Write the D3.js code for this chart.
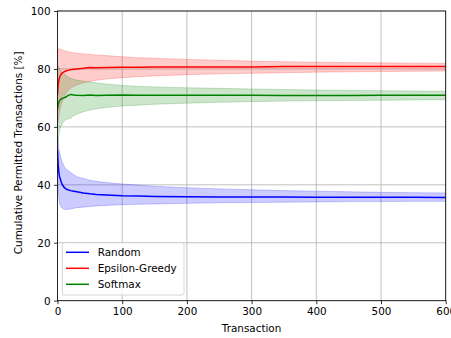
<!DOCTYPE html>
<html>
<head>
<meta charset="utf-8">
<script src="https://cdn.jsdelivr.net/npm/d3@7"></script>
<style>
  body { margin: 0; background: #fff; }
  svg { font-family: "DejaVu Sans", sans-serif; }
</style>
</head>
<body>
<div id="chart"></div>
<script>
const transactions = [0, 1, 2, 3, 5, 7, 10, 13, 16, 20, 25, 30, 40, 50, 60, 75, 100, 125, 150, 200, 250, 300, 350, 400, 450, 500, 550, 600];

const randomMean  = [52, 47, 44.5, 43, 41.5, 40.2, 39.2, 38.6, 38.3, 38.0, 37.8, 37.6, 37.2, 36.9, 36.7, 36.5, 36.2, 36.1, 36.0, 35.9, 35.8, 35.8, 35.8, 35.7, 35.7, 35.7, 35.7, 35.6];
const randomUpper = [57, 55, 53, 51.5, 49.5, 48, 46.5, 45.5, 45, 44.3, 43.5, 42.8, 42.2, 41.6, 41.2, 40.8, 40.3, 39.9, 39.5, 39.0, 38.6, 38.3, 38.0, 37.8, 37.6, 37.4, 37.3, 37.2];
const randomLower = [47, 39, 36, 34, 32.5, 32, 31.6, 31.5, 31.5, 31.7, 31.9, 32.1, 32.3, 32.5, 32.7, 32.9, 33.1, 33.3, 33.4, 33.6, 33.8, 33.9, 34.0, 34.1, 34.2, 34.2, 34.3, 34.3];

const greedyMean  = [71, 74.5, 76, 77, 78, 78.6, 79.0, 79.3, 79.5, 79.7, 79.9, 80.0, 80.2, 80.5, 80.4, 80.5, 80.6, 80.6, 80.7, 80.7, 80.7, 80.7, 80.8, 80.8, 80.8, 80.8, 80.8, 80.8];
const greedyUpper = [85, 86.5, 87, 87, 86.8, 86.6, 86.3, 86.1, 86.0, 85.8, 85.6, 85.4, 85.2, 85.0, 84.8, 84.6, 84.2, 83.9, 83.7, 83.3, 83.0, 82.7, 82.5, 82.3, 82.2, 82.1, 82.0, 81.9];
const greedyLower = [60, 62, 63.5, 65, 67, 68.5, 70.2, 71.5, 72.5, 73.3, 74, 74.5, 75.2, 75.7, 76.1, 76.5, 77.0, 77.3, 77.6, 78.0, 78.3, 78.5, 78.7, 78.9, 79.0, 79.1, 79.2, 79.3];

const softmaxMean  = [66, 67.5, 68.5, 69, 69.5, 69.8, 70.0, 70.3, 70.8, 71.2, 71.0, 70.9, 70.8, 71.0, 70.8, 70.9, 71.0, 70.9, 70.9, 70.9, 70.9, 70.9, 70.8, 70.8, 70.8, 70.9, 70.9, 70.9];
const softmaxUpper = [81, 81, 80.5, 80, 79.5, 79, 78.3, 77.8, 77.3, 76.8, 76.4, 76.1, 75.8, 75.5, 75.2, 74.8, 74.3, 74.0, 73.8, 73.5, 73.3, 73.1, 72.9, 72.7, 72.6, 72.5, 72.4, 72.3];
const softmaxLower = [52, 55, 57, 58.5, 60, 61, 62, 62.5, 62.8, 63, 63.8, 64.4, 65.2, 65.8, 66.2, 66.7, 67.2, 67.5, 67.8, 68.2, 68.5, 68.7, 68.9, 69.0, 69.1, 69.2, 69.3, 69.4];

const seriesNames = ['Random', 'Epsilon-Greedy', 'Softmax'];
const seriesColors = ['#0000ff', '#ff0000', '#008000'];
const xTicks = [0, 100, 200, 300, 400, 500, 600];
const yTicks = [0, 20, 40, 60, 80, 100];

const series = [
  { mean: randomMean, upper: randomUpper, lower: randomLower },
  { mean: greedyMean, upper: greedyUpper, lower: greedyLower },
  { mean: softmaxMean, upper: softmaxUpper, lower: softmaxLower }
];

const W = 451, H = 338;
const margin = { top: 11, right: 5.3, bottom: 37.3, left: 57.5 };
const width = W - margin.left - margin.right;
const height = H - margin.top - margin.bottom;
const fontSize = '10.4px';

const svg = d3.select('#chart').append('svg')
  .attr('width', W).attr('height', H);

const g = svg.append('g')
  .attr('transform', `translate(${margin.left},${margin.top})`);

const x = d3.scaleLinear().domain([0, 600]).range([0, width]);
const y = d3.scaleLinear().domain([0, 100]).range([height, 0]);

g.append('clipPath').attr('id', 'plotclip')
  .append('rect').attr('width', width).attr('height', height);

// grid
g.append('g').selectAll('line').data(xTicks).enter().append('line')
  .attr('x1', d => x(d)).attr('x2', d => x(d))
  .attr('y1', 0).attr('y2', height)
  .attr('stroke', '#b0b0b0').attr('stroke-width', 0.8);
g.append('g').selectAll('line').data(yTicks).enter().append('line')
  .attr('y1', d => y(d)).attr('y2', d => y(d))
  .attr('x1', 0).attr('x2', width)
  .attr('stroke', '#b0b0b0').attr('stroke-width', 0.8);

const plot = g.append('g').attr('clip-path', 'url(#plotclip)');

const area = d3.area()
  .x((d, i) => x(transactions[i]))
  .y0(d => y(d[0]))
  .y1(d => y(d[1]));

const line = d3.line()
  .x((d, i) => x(transactions[i]))
  .y(d => y(d));

series.forEach((s, k) => {
  const band = s.lower.map((lo, i) => [lo, s.upper[i]]);
  plot.append('path')
    .datum(band)
    .attr('d', area)
    .attr('fill', seriesColors[k])
    .attr('fill-opacity', 0.2)
    .attr('stroke', seriesColors[k])
    .attr('stroke-opacity', 0.2)
    .attr('stroke-width', 1);
});

series.forEach((s, k) => {
  plot.append('path')
    .datum(s.mean)
    .attr('d', line)
    .attr('fill', 'none')
    .attr('stroke', seriesColors[k])
    .attr('stroke-width', 1.5);
});

// axes
const xAxis = g.append('g')
  .attr('transform', `translate(0,${height})`)
  .call(d3.axisBottom(x).tickValues(xTicks).tickSize(3.5).tickPadding(3.5));
const yAxis = g.append('g')
  .call(d3.axisLeft(y).tickValues(yTicks).tickSize(3.5).tickPadding(3.5));

[xAxis, yAxis].forEach(a => {
  a.selectAll('.tick text')
    .attr('font-size', fontSize)
    .attr('font-family', 'DejaVu Sans')
    .attr('fill', '#000');
  a.selectAll('.tick line').attr('stroke', '#000').attr('stroke-width', 0.8);
  a.select('.domain').remove();
});

// spines
g.append('rect')
  .attr('width', width).attr('height', height)
  .attr('fill', 'none').attr('stroke', '#000').attr('stroke-width', 0.8);

svg.append('text')
  .attr('x', margin.left + width / 2).attr('y', 332)
  .attr('text-anchor', 'middle')
  .attr('font-size', fontSize)
  .text('Transaction');

svg.append('text')
  .attr('transform', `translate(22,${margin.top + height / 2 - 3}) rotate(-90)`)
  .attr('text-anchor', 'middle')
  .attr('font-size', fontSize)
  .text('Cumulative Permitted Transactions [%]');

// legend
const legend = svg.append('g').attr('transform', 'translate(62.3,242.7)');
legend.append('rect')
  .attr('width', 121.7).attr('height', 52.3)
  .attr('rx', 2).attr('ry', 2)
  .attr('fill', '#fff').attr('fill-opacity', 0.8)
  .attr('stroke', '#cccccc').attr('stroke-width', 0.8);

seriesNames.forEach((name, i) => {
  const row = legend.append('g').attr('transform', `translate(0,${9.6 + i * 16})`);
  row.append('line')
    .attr('x1', 3.7).attr('x2', 26.7)
    .attr('stroke', seriesColors[i]).attr('stroke-width', 1.5);
  row.append('text')
    .attr('x', 35.4).attr('y', 3.7)
    .attr('font-size', fontSize)
    .text(name);
});
</script>
</body>
</html>
